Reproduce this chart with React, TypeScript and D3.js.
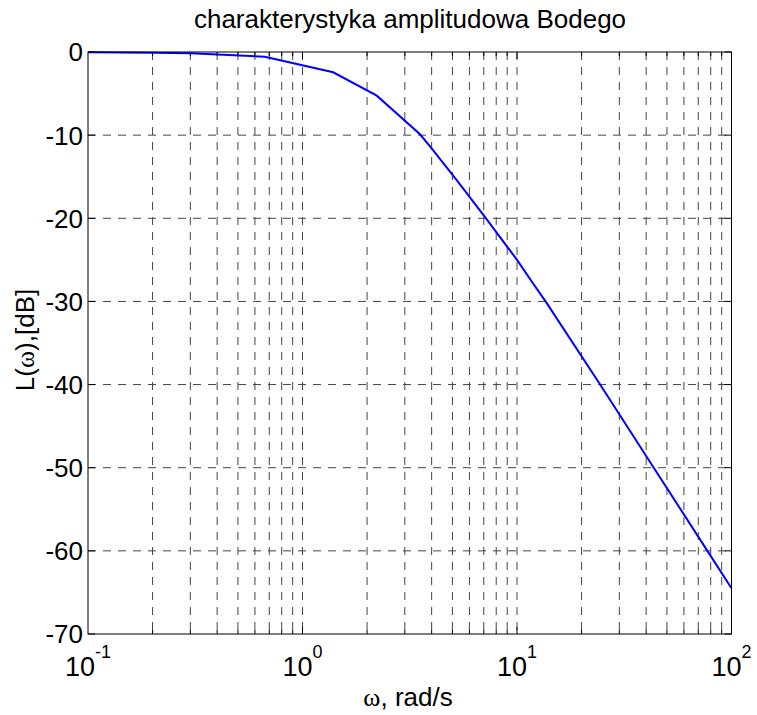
import React from "react";
import * as d3 from "d3";

const omega = [0.1, 0.2, 0.3, 0.667, 1.39, 2.22, 3.53, 4.0, 5.3, 7.17, 10, 11.5, 13.76, 24.4, 43.4, 77.2, 100];
const magDb = [-0.03, -0.08, -0.15, -0.56, -2.44, -5.25, -9.9, -11.6, -15.6, -20, -25.0, -27.3, -30.2, -40, -50, -60, -64.5];
const yTicks = [0, -10, -20, -30, -40, -50, -60, -70];
const xDecades = [-1, 0, 1, 2];

const W = 757, H = 715;
const L = 88, R = 731.5, T = 52, B = 634;

export default function App() {
  const x = d3.scaleLog().domain([0.1, 100]).range([L, R]);
  const y = d3.scaleLinear().domain([-70, 0]).range([B, T]);
  const minor: number[] = [];
  for (let d = -1; d < 2; d++) for (let k = 1; k <= 9; k++) {
    const v = k * Math.pow(10, d);
    if (v > 0.1 && v < 100) minor.push(v);
  }
  const line = d3.line<number>().x((_, i) => x(omega[i])).y((d) => y(d));
  const font = "Arial, 'Liberation Sans', sans-serif";
  const serif = "'Times New Roman', 'Liberation Serif', serif";
  return (
    <svg width={W} height={H} style={{ position: "absolute", left: 0, top: 0 }}>
      <rect x={0} y={0} width={W} height={H} fill="#fff" />
      {minor.map((v) => (
        <line key={"vg" + v} x1={x(v)} x2={x(v)} y1={T} y2={B} stroke="#444" strokeWidth={1} strokeDasharray="8,7" />
      ))}
      {yTicks.filter((v) => v !== 0 && v !== -70).map((v) => (
        <line key={"hg" + v} x1={L} x2={R} y1={y(v)} y2={y(v)} stroke="#444" strokeWidth={1} strokeDasharray="8,7" />
      ))}
      {minor.map((v) => {
        const isMajor = Math.abs(Math.log10(v) - Math.round(Math.log10(v))) < 1e-9;
        const len = isMajor ? 7 : 4;
        return (
          <g key={"xt" + v}>
            <line x1={x(v)} x2={x(v)} y1={B} y2={B - len} stroke="#000" />
            <line x1={x(v)} x2={x(v)} y1={T} y2={T + len} stroke="#000" />
          </g>
        );
      })}
      {yTicks.map((v) => (
        <g key={"yt" + v}>
          <line x1={L} x2={L + 7} y1={y(v)} y2={y(v)} stroke="#000" />
          <line x1={R} x2={R - 7} y1={y(v)} y2={y(v)} stroke="#000" />
          <text x={L - 5} y={y(v)} dy="0.36em" textAnchor="end" fontFamily={font} fontSize={26} fill="#000">
            {v}
          </text>
        </g>
      ))}
      <path d={line(magDb) || ""} fill="none" stroke="#0000ff" strokeWidth={2} />
      <rect x={L} y={T} width={R - L} height={B - T} fill="none" stroke="#000" strokeWidth={1} />
      {xDecades.map((d) => (
        <text key={"xl" + d} x={x(Math.pow(10, d))} y={676} textAnchor="middle" fontFamily={font} fontSize={27} fill="#000">
          10
          <tspan dy={-18} fontSize={18}>{d}</tspan>
        </text>
      ))}
      <text x={410} y={28} textAnchor="middle" fontFamily={font} fontSize={26} fill="#000">
        charakterystyka amplitudowa Bodego
      </text>
      <text x={408} y={706} textAnchor="middle" fontFamily={font} fontSize={26} fill="#000">
        <tspan fontFamily={serif}>ω</tspan>, rad/s
      </text>
      <text transform={`translate(34,340) rotate(-90)`} textAnchor="middle" fontFamily={font} fontSize={26} fill="#000">
        L(<tspan fontFamily={serif}>ω</tspan>),[dB]
      </text>
    </svg>
  );
}
